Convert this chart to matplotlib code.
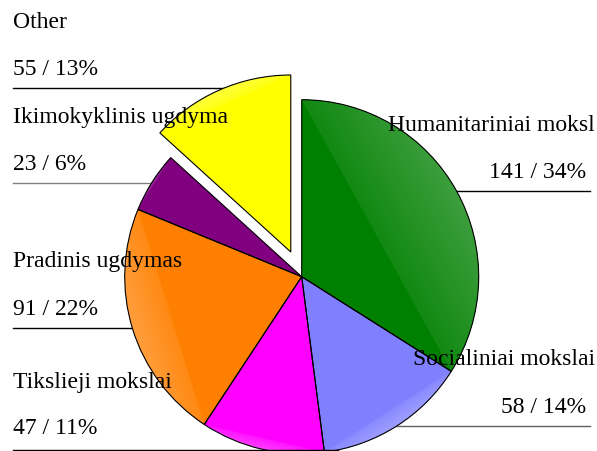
import numpy as np
import matplotlib
matplotlib.use("Agg")
import matplotlib.pyplot as plt
from matplotlib.patches import Polygon, PathPatch
from matplotlib.colors import to_rgb

categories = ["Humanitariniai moksl", "Socialiniai mokslai", "Tikslieji mokslai",
              "Pradinis ugdymas", "Ikimokyklinis ugdyma", "Other"]
values = [141, 58, 47, 91, 23, 55]
colors = ["#008000", "#8080FF", "#FF00FF", "#FF8000", "#800080", "#FFFF00"]
explode = [0, 0, 0, 0, 0, 27]

total = sum(values)
value_labels = [f"{v} / {round(100 * v / total)}%" for v in values]

W, H = 597, 451
fig = plt.figure(figsize=(W / 100, H / 100), dpi=100)
ax = fig.add_axes([0, 0, 1, 1])

def py(y):
    return H - y

center = (301.7, py(276.7))
radius = 177.0

wedges, _ = ax.pie(values, colors=colors, explode=explode, startangle=90,
                   counterclock=False, center=center, radius=radius, frame=True,
                   wedgeprops=dict(edgecolor="none", linewidth=0))
ax.set_xlim(0, W)
ax.set_ylim(0, H)
ax.set_aspect("equal")
ax.axis("off")

# lighting: circular segment between chord and arc brightened toward the rim
for w, col in zip(wedges, colors):
    cx, cy = w.center
    r = w.r
    t1, t2 = np.radians(w.theta1), np.radians(w.theta2)
    ang = np.linspace(t1, t2, 200)
    arc = np.column_stack([cx + r * np.cos(ang), cy + r * np.sin(ang)])
    seg = Polygon(arc, closed=True, transform=ax.transData, facecolor="none", edgecolor="none")
    ax.add_patch(seg)
    p1, p2 = arc[0], arc[-1]
    mid = (p1 + p2) / 2
    tm = (t1 + t2) / 2
    n = np.array([np.cos(tm), np.sin(tm)])
    sag = r * (1 - np.cos((t2 - t1) / 2))
    x0, x1 = arc[:, 0].min(), arc[:, 0].max()
    y0, y1 = arc[:, 1].min(), arc[:, 1].max()
    xs = np.linspace(x0, x1, 300)
    ys = np.linspace(y0, y1, 300)
    X, Y = np.meshgrid(xs, ys)
    d = (X - mid[0]) * n[0] + (Y - mid[1]) * n[1]
    t = np.clip(d / max(sag, 1e-6), 0, 1)
    base = np.array(to_rgb(col))
    f = (0.07 + 0.17 * t)[..., None]
    img = base + (1 - base) * f
    im = ax.imshow(img, extent=(x0, x1, y0, y1), origin="lower",
                   interpolation="bilinear", zorder=1.5, aspect="auto")
    im.set_clip_path(seg)

for w in wedges:
    ax.add_patch(PathPatch(w.get_path(), fill=False, edgecolor="black",
                           linewidth=0.8, zorder=3))
ax.set_xlim(0, W)
ax.set_ylim(0, H)

font = dict(family=["Liberation Serif", "DejaVu Serif"], fontsize=17, color="black")

# left-side labels: (name baseline, value baseline, line y, line end x, line color, line zorder)
left = {
    5: (28.3, 75.0, 88.3, 240, "black", 0.5),
    4: (123.0, 170.0, 182.7, 170, "#808080", 0.5),
    3: (266.7, 315.0, 328.3, 200, "black", 0.5),
    2: (388.0, 434.0, 449.8, 338, "black", 3.5),
}
for i, (yn, yv, yl, xe, lc, zl) in left.items():
    ax.text(13, py(yn), categories[i], ha="left", va="baseline", zorder=4, **font)
    ax.text(13, py(yv), value_labels[i], ha="left", va="baseline", zorder=4, **font)
    ax.plot([13, xe], [py(yl), py(yl)], color=lc, lw=1.0, zorder=zl)

right = {
    0: (130.7, 178.3, 191.0, 440, "black"),
    1: (365.0, 412.7, 425.7, 380, "#606060"),
}
for i, (yn, yv, yl, xs_, lc) in right.items():
    ax.text(595, py(yn), categories[i], ha="right", va="baseline", zorder=4, **font)
    ax.text(586, py(yv), value_labels[i], ha="right", va="baseline", zorder=4, **font)
    ax.plot([xs_, 590], [py(yl), py(yl)], color=lc, lw=1.0, zorder=0.5)

fig.savefig("out.png", dpi=100)
